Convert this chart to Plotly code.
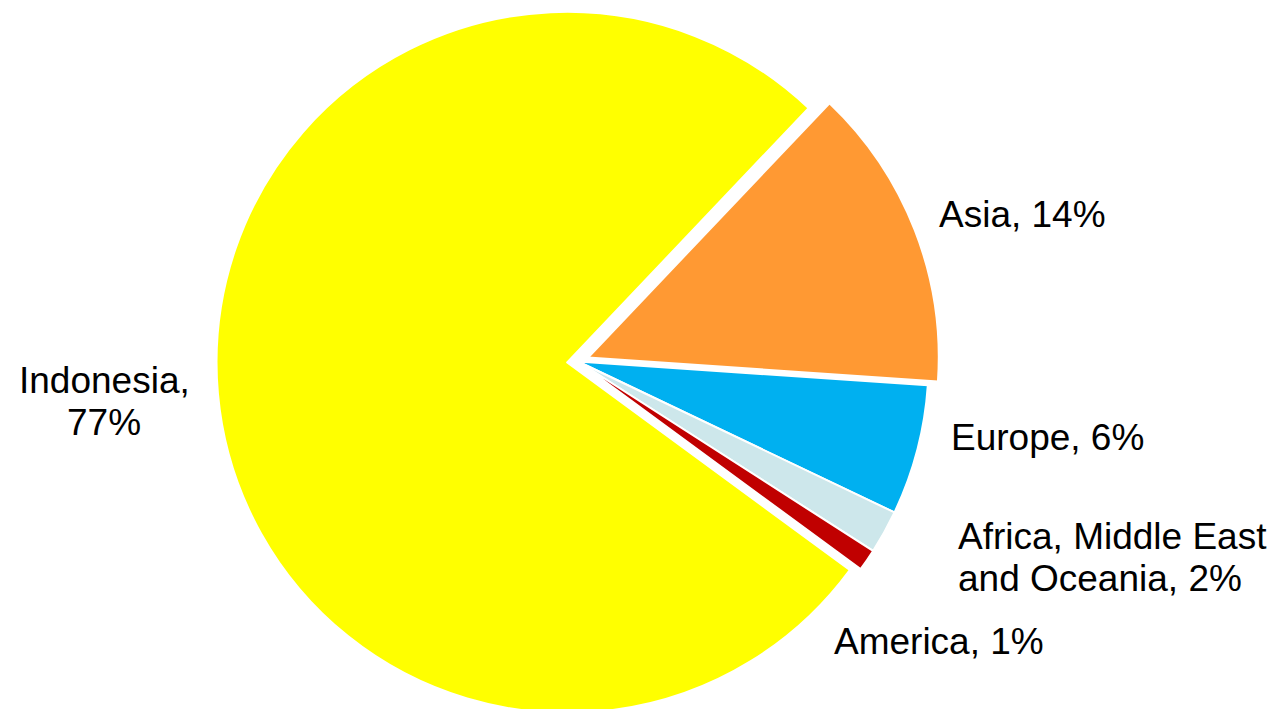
import plotly.graph_objects as go

# ---- data ----
categories = ["Asia", "Europe", "Africa, Middle East and Oceania", "America", "Indonesia"]
shares = [14, 6, 2, 1, 77]
colors = ["#FF9933", "#00B0F0", "#CDE7EB", "#C00000", "#FFFF00"]
pulls = [0.031, 0, 0, 0, 0.031]

W, H = 1278, 723

fig = go.Figure()
cx = 578 / W
half = 0.31
fig.add_trace(go.Pie(
    labels=categories,
    values=shares,
    sort=False,
    direction="clockwise",
    rotation=43.5,
    pull=pulls,
    marker=dict(colors=colors, line=dict(color="white", width=2)),
    textinfo="none",
    hovertemplate="%{label}: %{value}%<extra></extra>",
    domain=dict(x=[cx - half, cx + half], y=[0, 1]),
    showlegend=False,
))

# ---- labels (text built from data) ----
label_text = {c: f"{c}, {v}%" for c, v in zip(categories, shares)}
wraps = {"Indonesia": "Indonesia, ", "Africa, Middle East and Oceania": "Middle East "}


def lines_for(c):
    t = label_text[c]
    if c in wraps:
        k = wraps[c]
        i = t.index(k) + len(k)
        return [t[:i].rstrip(), t[i:]]
    return [t]


# label anchor positions (px): x, first-line center y, alignment
label_pos = {
    "Asia": (937, 214, "left"),
    "Europe": (949, 437, "left"),
    "Africa, Middle East and Oceania": (956, 536, "left"),
    "America": (832, 641, "left"),
    "Indonesia": (104, 380, "center"),
}
line_gap = 42
font = dict(family="Liberation Sans, Arial, sans-serif", size=37, color="black")
for c in categories:
    x, y, al = label_pos[c]
    for j, ln in enumerate(lines_for(c)):
        fig.add_annotation(
            x=x / W, y=1 - (y + j * line_gap) / H, xref="paper", yref="paper",
            text=ln, showarrow=False, xanchor=al, yanchor="middle",
            font=font,
        )

fig.update_layout(
    width=W, height=H,
    margin=dict(l=0, r=0, t=0, b=0),
    paper_bgcolor="white", plot_bgcolor="white",
)
fig.write_html("out.html")
